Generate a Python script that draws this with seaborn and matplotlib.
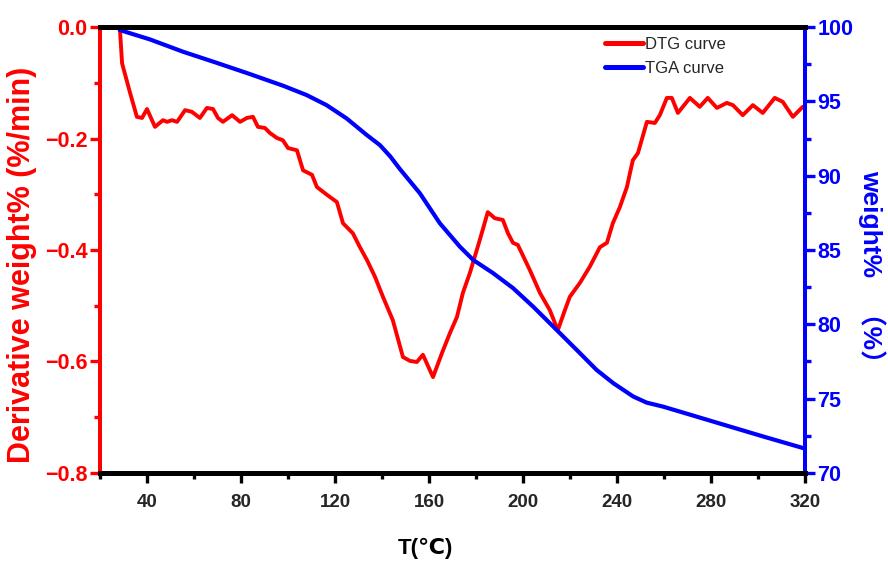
import numpy as np
import pandas as pd
import matplotlib
matplotlib.use('Agg')
import matplotlib.pyplot as plt
from matplotlib import font_manager
from matplotlib.ticker import MultipleLocator
import seaborn as sns

# DTG curve (derivative weight, %/min)
dtg_temp = [27.7, 28.5, 29.4, 32.8, 35.7, 37.9, 40.0, 43.4, 46.8, 48.5, 50.6, 52.8,
            56.2, 59.1, 62.5, 65.5, 68.1, 70.2, 72.3, 76.2, 79.6, 82.5, 85.1, 87.2,
            90.2, 92.3, 95.3, 97.8, 100.0, 103.8, 106.4, 110.2, 112.3, 116.6, 120.8,
            123.4, 127.6, 130.6, 133.6, 137.0, 140.4, 144.6, 148.9, 151.9, 154.8,
            157.4, 161.7, 165.5, 168.9, 171.9, 174.4, 177.4, 181.6, 185.0, 188.0,
            191.4, 193.6, 195.7, 197.8, 202.9, 207.2, 211.4, 214.8, 217.8, 219.9,
            224.2, 228.4, 232.7, 235.7, 238.2, 241.2, 244.2, 246.7, 248.9, 252.7,
            256.1, 258.2, 261.2, 263.3, 265.9, 271.0, 275.2, 278.6, 282.5, 286.7,
            289.3, 293.5, 297.8, 302.0, 307.1, 310.5, 314.8, 319.0]
dtg_value = [0.0, -0.005, -0.065, -0.118, -0.161, -0.163, -0.147, -0.179, -0.167, -0.170,
             -0.167, -0.170, -0.149, -0.152, -0.163, -0.145, -0.147, -0.163, -0.170,
             -0.158, -0.170, -0.163, -0.161, -0.179, -0.181, -0.190, -0.199, -0.203,
             -0.217, -0.221, -0.257, -0.265, -0.287, -0.301, -0.314, -0.352, -0.370,
             -0.395, -0.418, -0.448, -0.484, -0.526, -0.592, -0.599, -0.601, -0.588,
             -0.628, -0.585, -0.549, -0.520, -0.477, -0.441, -0.382, -0.332, -0.343,
             -0.346, -0.370, -0.387, -0.391, -0.436, -0.477, -0.508, -0.544, -0.508,
             -0.484, -0.459, -0.430, -0.395, -0.387, -0.352, -0.323, -0.287, -0.239,
             -0.226, -0.170, -0.172, -0.158, -0.127, -0.127, -0.154, -0.127, -0.143,
             -0.127, -0.145, -0.136, -0.140, -0.158, -0.140, -0.154, -0.127, -0.134,
             -0.161, -0.143]

# TGA curve (weight %)
tga_temp = [27.7, 28.5, 41.3, 55.4, 69.6, 83.8, 98.0, 107.9, 116.4, 124.9, 133.5,
            139.1, 143.5, 147.6, 156.1, 164.6, 173.1, 178.8, 187.3, 195.8, 204.3,
            215.7, 224.2, 231.3, 238.4, 246.9, 252.6, 259.6, 273.8, 288.0, 302.2, 319.2]
tga_weight = [100.0, 99.80, 99.17, 98.34, 97.60, 96.84, 96.05, 95.43, 94.75, 93.86,
              92.74, 92.06, 91.30, 90.45, 88.82, 86.80, 85.23, 84.33, 83.44, 82.43,
              81.19, 79.40, 78.06, 76.93, 76.04, 75.14, 74.73, 74.46, 73.79, 73.12,
              72.45, 71.67]

sns.set_style('ticks')
names = {f.name for f in font_manager.fontManager.ttflist}
narrow = 'Liberation Sans Narrow' if 'Liberation Sans Narrow' in names else 'Liberation Sans'
plt.rcParams['font.family'] = ['Liberation Sans', 'Noto Sans CJK SC', 'DejaVu Sans']

dtg = pd.DataFrame({'T': dtg_temp, 'v': dtg_value})
tga = pd.DataFrame({'T': tga_temp, 'w': tga_weight})

fig = plt.figure(figsize=(8.88, 5.65), dpi=100)
ax = fig.add_axes([0.1126, 0.163, 0.794, 0.789])
ax2 = ax.twinx()

sns.lineplot(data=dtg, x='T', y='v', ax=ax, color='#ff0000', lw=2.8, label='DTG curve', legend=False)
sns.lineplot(data=tga, x='T', y='w', ax=ax2, color='#0000ff', lw=3.0, label='TGA curve', legend=False)

ax.set_xlim(20, 320)
ax.set_ylim(-0.8, 0.0)
ax2.set_ylim(70, 100)

ax.xaxis.set_minor_locator(MultipleLocator(20))
ax.set_xticks([40, 80, 120, 160, 200, 240, 280, 320])
ax.yaxis.set_major_locator(MultipleLocator(0.2))
ax.yaxis.set_minor_locator(MultipleLocator(0.1))
ax2.yaxis.set_major_locator(MultipleLocator(5))
ax2.yaxis.set_minor_locator(MultipleLocator(2.5))

for a in (ax, ax2):
    a.spines['top'].set_color('black')
    a.spines['top'].set_linewidth(3.5)
    a.spines['bottom'].set_color('black')
    a.spines['bottom'].set_linewidth(3.5)
    a.spines['left'].set_color('#ff0000')
    a.spines['left'].set_linewidth(2.8)
    a.spines['right'].set_color('#0000ff')
    a.spines['right'].set_linewidth(2.8)

ax.tick_params(axis='x', which='major', length=7, width=2.4, color='black', pad=8.5)
ax.tick_params(axis='x', which='minor', length=4.5, width=2.4, color='black')
ax.tick_params(axis='y', which='major', length=7, width=2.4, color='#ff0000',
               labelcolor='#ff0000', pad=2)
ax.tick_params(axis='y', which='minor', length=4.5, width=2.4, color='#ff0000')
ax2.tick_params(axis='y', which='major', length=7, width=2.4, color='#0000ff',
                labelcolor='#0000ff', pad=2)
ax2.tick_params(axis='y', which='minor', length=4.5, width=2.4, color='#0000ff')

for lab in ax.get_yticklabels():
    lab.set_fontsize(15.5)
    lab.set_fontweight('bold')
for lab in ax2.get_yticklabels():
    lab.set_fontsize(15.5)
    lab.set_fontweight('bold')
for lab in ax.get_xticklabels():
    lab.set_fontsize(13.5)
    lab.set_fontweight('bold')
    lab.set_family([narrow, 'DejaVu Sans'])

ax.set_xlabel('T(℃)', fontsize=16, fontweight='bold', color='black',
              family=[narrow, 'DejaVu Sans'])
ax.xaxis.set_label_coords(0.461, -0.146)
ax.set_ylabel('Derivative weight% (%/min)', fontsize=22, fontweight='bold',
              color='#ff0000')
ax.yaxis.set_label_coords(-0.089, 0.466)
ax2.set_ylabel('weight%   （%）', fontsize=19, fontweight='bold', color='#0000ff',
               rotation=-90, family=['Liberation Sans', 'Noto Sans CJK SC'])
ax2.yaxis.set_label_coords(1.115, 0.448)

h1, l1 = ax.get_legend_handles_labels()
h2, l2 = ax2.get_legend_handles_labels()
leg = ax2.legend(h1 + h2, l1 + l2, loc='upper left', bbox_to_anchor=(0.695, 1.012),
                 frameon=False, fontsize=12, handlelength=2.3, handletextpad=0.1,
                 labelspacing=0.55)
for ln in leg.get_lines():
    ln.set_linewidth(3.6)

fig.savefig('out.png', dpi=100)
